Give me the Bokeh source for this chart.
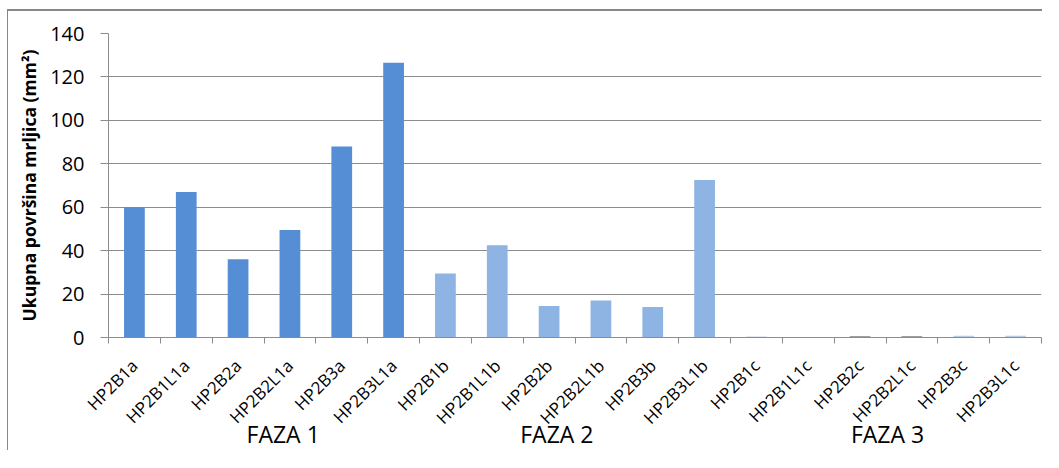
from math import pi
from bokeh.plotting import figure
from bokeh.models import ColumnDataSource, FixedTicker, Range1d, LinearAxis
from bokeh.embed import file_html
from bokeh.resources import INLINE

# ---- data ----
categories = ["HP2B1a", "HP2B1L1a", "HP2B2a", "HP2B2L1a", "HP2B3a", "HP2B3L1a",
              "HP2B1b", "HP2B1L1b", "HP2B2b", "HP2B2L1b", "HP2B3b", "HP2B3L1b",
              "HP2B1c", "HP2B1L1c", "HP2B2c", "HP2B2L1c", "HP2B3c", "HP2B3L1c"]
values = [60, 67, 36, 49.5, 88, 126.5,
          29.5, 42.5, 14.5, 17, 14, 72.5,
          0.3, 0, 0.5, 0.5, 0.8, 0.8]
phases = ["FAZA 1"] * 6 + ["FAZA 2"] * 6 + ["FAZA 3"] * 6
phase_names = ["FAZA 1", "FAZA 2", "FAZA 3"]
y_ticks = [0, 20, 40, 60, 80, 100, 120, 140]
y_title = "Ukupna površina mrljica (mm²)"

# ---- styles ----
bar_colors = ["#558ED5"] * 6 + ["#8DB4E2"] * 6 + \
             ["#8EA6C4", "#8EA6C4", "#404040", "#404040", "#B9CDE5", "#B9CDE5"]
phase_label_x = [3.37, 8.65, 15.03]   # label centres, in category units
FONT = "Open Sans"
GRAY = "#8C8C8C"

n = len(categories)
xs = [i + 0.5 for i in range(n)]
src = ColumnDataSource(dict(x=xs, top=values, cat=categories, phase=phases, color=bar_colors))

p = figure(width=1035, height=441, x_range=Range1d(0, n), y_range=Range1d(0, 140),
           output_backend="svg", toolbar_location=None,
           min_border_left=100, min_border_right=2, min_border_top=22, min_border_bottom=113)
p.styles = {"margin-top": "9px", "margin-left": "7px",
            "border-top": "2px solid #878787", "border-left": "1px solid #878787"}

p.vbar(x="x", top="top", width=0.4, color="color", source=src, line_color=None)

p.outline_line_color = None
p.background_fill_color = "white"
p.xgrid.grid_line_color = None
p.ygrid.grid_line_color = GRAY
p.ygrid.grid_line_width = 1

# y axis
p.yaxis.ticker = FixedTicker(ticks=y_ticks)
p.yaxis.axis_line_color = GRAY
p.yaxis.major_tick_line_color = GRAY
p.yaxis.major_tick_out = 8
p.yaxis.major_tick_in = 0
p.yaxis.minor_tick_line_color = None
p.yaxis.major_label_text_font = FONT
p.yaxis.major_label_text_font_size = "20px"
p.yaxis.major_label_text_color = "black"
p.yaxis.major_label_standoff = 16
p.yaxis.axis_label = y_title
p.yaxis.axis_label_text_font = FONT
p.yaxis.axis_label_text_font_size = "17.5px"
p.yaxis.axis_label_text_font_style = "bold"
p.yaxis.axis_label_text_color = "black"
p.yaxis.axis_label_standoff = 6

# category x axis (nearest the frame)
cat_axis = p.xaxis[0]
cat_axis.ticker = FixedTicker(ticks=xs, minor_ticks=list(range(n + 1)))
cat_axis.major_label_overrides = {x: c for x, c in zip(xs, categories)}
cat_axis.axis_line_color = GRAY
cat_axis.major_tick_line_color = None
cat_axis.major_tick_out = 0
cat_axis.major_tick_in = 0
cat_axis.minor_tick_line_color = GRAY
cat_axis.minor_tick_out = 6
cat_axis.minor_tick_in = 0
cat_axis.major_label_orientation = pi / 4
cat_axis.major_label_standoff = 19
cat_axis.major_label_text_font = FONT
cat_axis.major_label_text_font_size = "17px"
cat_axis.major_label_text_color = "black"

# phase (group) labels, stacked below the category labels
phase_axis = LinearAxis(ticker=FixedTicker(ticks=phase_label_x),
                        major_label_overrides={x: nm for x, nm in zip(phase_label_x, phase_names)},
                        axis_line_color=None, major_tick_line_color=None, minor_tick_line_color=None,
                        major_tick_out=0, major_tick_in=0,
                        major_label_standoff=-22,
                        major_label_text_font=FONT, major_label_text_font_size="23px",
                        major_label_text_color="black")
p.add_layout(phase_axis, "below")

open("out.html", "w").write(file_html(p, INLINE))
